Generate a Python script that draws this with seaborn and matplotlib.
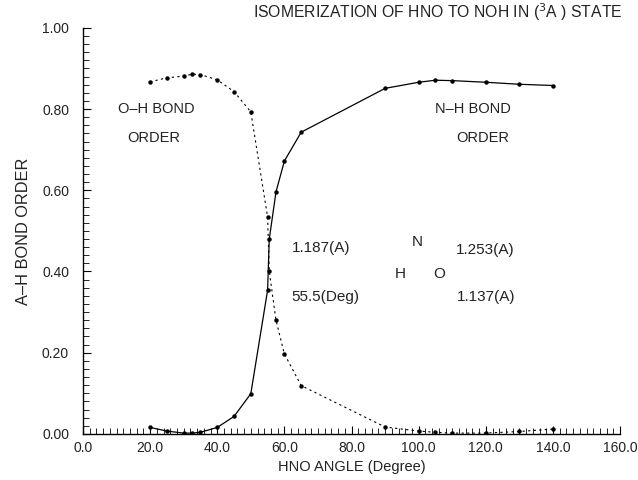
import numpy as np
import pandas as pd
import matplotlib
matplotlib.use("Agg")
import matplotlib.pyplot as plt
from matplotlib.ticker import MultipleLocator, FormatStrFormatter
import seaborn as sns

# ---- data ----
angle = [20, 25, 30, 32.5, 35, 40, 45, 50, 55, 55.5, 57.5, 60, 65,
         90, 100, 105, 110, 120, 130, 140]
oh_order = [0.867, 0.877, 0.881, 0.886, 0.885, 0.872, 0.843, 0.793, 0.534,
            0.400, 0.280, 0.197, 0.119, 0.017, 0.007, 0.004, 0.002, 0.002,
            0.006, 0.012]
nh_order = [0.016, 0.007, 0.002, 0.002, 0.004, 0.016, 0.043, 0.099, 0.354,
            0.480, 0.596, 0.672, 0.743, 0.851, 0.866, 0.871, 0.870, 0.866,
            0.861, 0.858]

x_ticks = [0, 20, 40, 60, 80, 100, 120, 140, 160]
y_ticks = [0.0, 0.2, 0.4, 0.6, 0.8, 1.0]

df = pd.DataFrame({"angle": angle, "oh": oh_order, "nh": nh_order})

sns.set_theme(style="white")
plt.rcParams["font.family"] = ["Liberation Sans", "DejaVu Sans"]

TXT = "#222222"

fig = plt.figure(figsize=(6.38, 4.80), dpi=100)
ax = fig.add_axes([0.130, 0.096, 0.842, 0.846])

sns.lineplot(data=df, x="angle", y="oh", ax=ax, color="black",
             linewidth=0.8, linestyle=(0, (2, 3)), marker="o",
             markersize=3.2, markeredgewidth=0)
sns.lineplot(data=df, x="angle", y="nh", ax=ax, color="black",
             linewidth=0.9, marker="o", markersize=3.2, markeredgewidth=0)

ax.set_xlim(0, 160)
ax.set_ylim(0, 1.0)
ax.set_xticks(x_ticks)
ax.set_yticks(y_ticks)
ax.xaxis.set_major_formatter(FormatStrFormatter("%.1f"))
ax.yaxis.set_major_formatter(FormatStrFormatter("%.2f"))
ax.xaxis.set_minor_locator(MultipleLocator(2))
ax.yaxis.set_minor_locator(MultipleLocator(0.02))
ax.tick_params(axis="both", which="major", direction="in", length=6,
               width=0.8, color="black", labelsize=10, labelcolor=TXT,
               bottom=True, left=True)
ax.tick_params(axis="y", which="major", pad=10)
ax.tick_params(axis="x", which="major", pad=5)
ax.tick_params(axis="both", which="minor", direction="in", length=4,
               width=0.6, color="black", bottom=True, left=True)

for s in ["top", "right"]:
    ax.spines[s].set_visible(False)
for s in ["left", "bottom"]:
    ax.spines[s].set_color("black")
    ax.spines[s].set_linewidth(1.0)

ax.set_xlabel("HNO ANGLE (Degree)", fontsize=10.5, color=TXT, labelpad=4)
ax.set_ylabel("A\u2013H BOND ORDER", fontsize=11.8, color=TXT, labelpad=8)

ax.text(1.005, 1.012, r"ISOMERIZATION OF HNO TO NOH IN ($^3$A ) STATE",
        transform=ax.transAxes, ha="right", va="bottom", fontsize=11.3,
        color=TXT)

lkw = dict(fontsize=10.5, color=TXT, va="center")
ax.text(10.4, 0.80, "O\u2013H BOND", ha="left", **lkw)
ax.text(13.1, 0.728, "ORDER", ha="left", **lkw)
ax.text(104.9, 0.80, "N\u2013H BOND", ha="left", **lkw)
ax.text(111.1, 0.728, "ORDER", ha="left", **lkw)

akw = dict(fontsize=11, color=TXT, va="center")
ax.text(62.1, 0.459, "1.187(A)", ha="left", **akw)
ax.text(99.5, 0.472, "N", ha="center", **akw)
ax.text(111.1, 0.454, "1.253(A)", ha="left", **akw)
ax.text(94.5, 0.395, "H", ha="center", **akw)
ax.text(106.1, 0.393, "O", ha="center", **akw)
ax.text(62.1, 0.336, "55.5(Deg)", ha="left", **akw)
ax.text(111.4, 0.336, "1.137(A)", ha="left", **akw)

fig.savefig("out.png", dpi=100)
